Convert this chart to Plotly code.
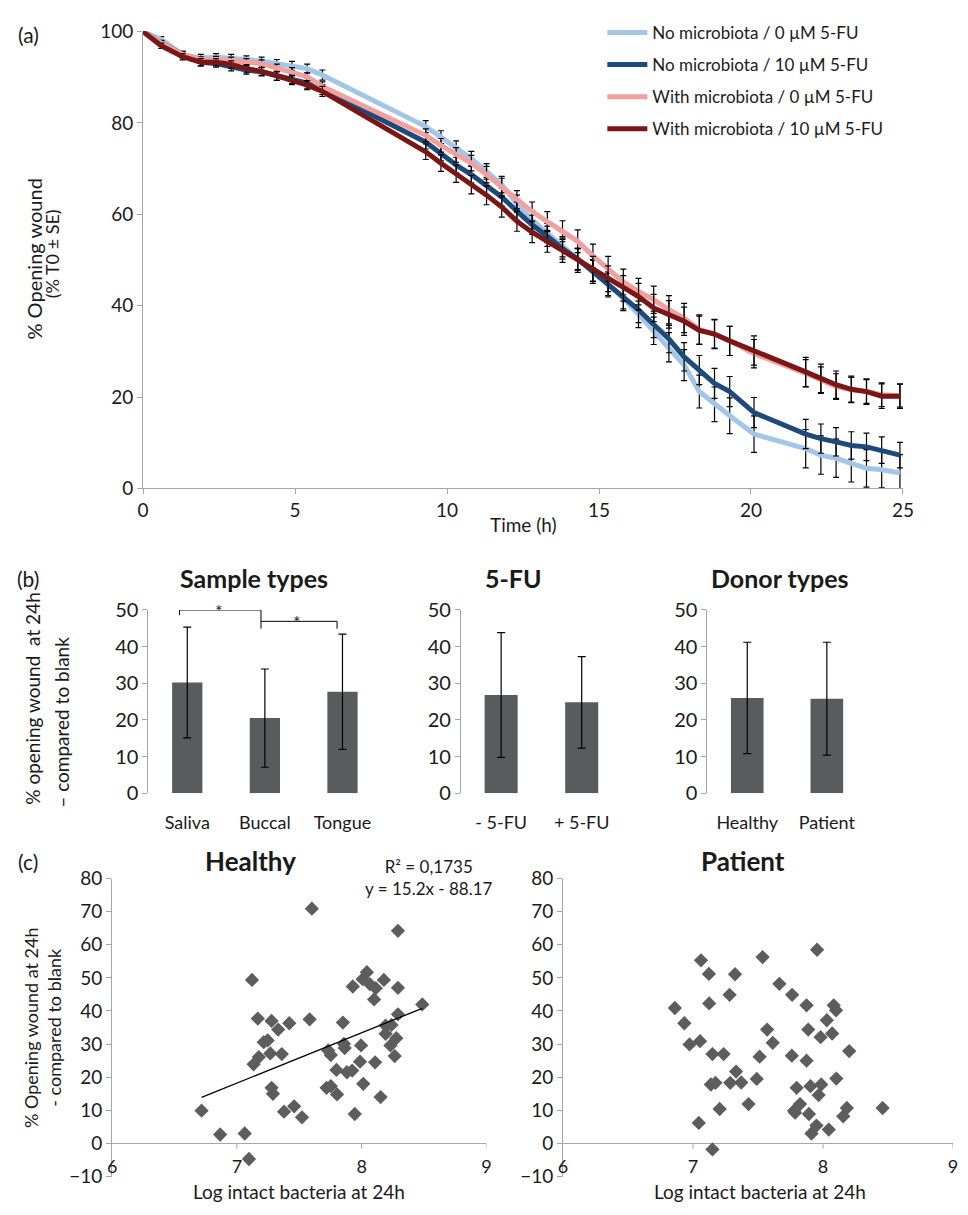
import plotly.graph_objects as go

FONT = "Lato"
W, H = 968, 1215

# ---------------- Panel (a): wound closure over time ----------------
time_h = [0, 0.6, 1.3, 1.9, 2.4, 2.9, 3.4, 3.9, 4.4, 4.9, 5.4, 5.9,
          9.3, 9.8, 10.3, 10.8, 11.3, 11.8, 12.3, 12.8, 13.3, 13.8, 14.3, 14.8,
          15.3, 15.8, 16.3, 16.8, 17.3, 17.8, 18.3, 18.8, 19.3, 20.1,
          21.8, 22.3, 22.8, 23.3, 23.8, 24.3, 24.9]

no_mb_0 = [100, 98.3, 95.0, 94.2, 94.4, 94.2, 93.9, 93.5, 93.0, 92.5, 91.9, 90.5,
           79.2, 76.9, 74.6, 72.2, 69.4, 66.5, 62.3, 58.8, 55.9, 52.9, 50.2, 47.7,
           44.8, 41.6, 38.1, 34.5, 30.9, 27.0, 21.2, 18.4, 15.9, 11.9,
           8.7, 7.3, 6.6, 5.5, 4.4, 4.1, 3.4]
no_mb_10 = [100, 97.5, 95.0, 93.3, 93.0, 92.3, 91.6, 91.2, 90.3, 89.6, 88.7, 87.3,
            75.8, 73.3, 70.8, 68.7, 66.2, 63.8, 60.7, 57.7, 55.2, 52.5, 50.2, 47.4,
            44.5, 42.0, 39.1, 35.9, 32.7, 28.8, 25.9, 23.0, 21.2, 16.6,
            11.9, 10.9, 10.2, 9.4, 9.1, 8.4, 7.3]
with_mb_0 = [100, 97.5, 95.0, 93.8, 93.9, 93.7, 93.3, 93.0, 92.1, 91.2, 90.1, 88.0,
             77.3, 75.1, 73.0, 71.2, 68.7, 66.0, 63.2, 60.6, 58.4, 56.3, 54.1, 50.9,
             48.1, 45.2, 43.1, 41.3, 39.1, 37.3, 34.8, 33.8, 32.3, 29.5,
             25.2, 23.7, 22.3, 21.6, 21.2, 20.5, 20.3]
with_mb_10 = [100, 96.9, 94.5, 93.3, 93.3, 92.8, 91.9, 91.3, 90.3, 89.4, 88.3, 86.9,
              73.7, 71.2, 68.9, 66.5, 64.2, 61.6, 58.5, 56.1, 54.1, 52.0, 49.9, 48.1,
              45.9, 43.8, 42.0, 39.5, 38.1, 36.6, 34.6, 33.8, 32.3, 30.2,
              25.5, 24.1, 22.7, 21.7, 21.2, 20.2, 20.2]

se_no_mb_0 = [0, 0.6, 0.7, 0.8, 0.8, 0.8, 0.8, 0.9, 0.9, 1.0, 1.0, 1.1,
              1.3, 1.4, 1.5, 1.6, 1.7, 1.8, 1.9, 2.0, 2.1, 2.2, 2.3, 2.4,
              2.6, 2.7, 2.9, 3.0, 3.2, 3.4, 3.6, 3.8, 3.9, 4.0,
              4.2, 4.2, 4.2, 4.1, 4.1, 4.0, 4.0]
se_no_mb_10 = [0, 0.6, 0.7, 0.8, 0.8, 0.9, 0.9, 0.9, 1.0, 1.0, 1.1, 1.1,
               1.5, 1.6, 1.7, 1.8, 1.9, 2.0, 2.0, 2.1, 2.2, 2.3, 2.4, 2.5,
               2.6, 2.7, 2.8, 2.9, 3.0, 3.1, 3.2, 3.3, 3.3, 3.3,
               3.2, 3.2, 3.1, 3.0, 3.0, 2.9, 2.8]
se_with_mb_0 = [0, 0.5, 0.6, 0.7, 0.7, 0.7, 0.8, 0.8, 0.8, 0.9, 0.9, 1.0,
                1.4, 1.5, 1.6, 1.7, 1.8, 1.9, 2.0, 2.1, 2.2, 2.3, 2.5, 2.6,
                2.7, 2.8, 2.9, 3.0, 3.1, 3.2, 3.2, 3.2, 3.2, 3.1,
                3.0, 2.9, 2.8, 2.7, 2.6, 2.6, 2.5]
se_with_mb_10 = [0, 0.6, 0.7, 0.8, 0.8, 0.8, 0.9, 0.9, 0.9, 1.0, 1.0, 1.1,
                 1.7, 1.8, 1.9, 2.0, 2.1, 2.2, 2.2, 2.3, 2.4, 2.5, 2.6, 2.7,
                 2.8, 2.8, 2.9, 3.0, 3.0, 3.1, 3.1, 3.1, 3.2, 3.2,
                 3.2, 3.1, 3.0, 2.9, 2.8, 2.7, 2.7]

series_names = ["No microbiota / 0 µM 5-FU", "No microbiota / 10 µM 5-FU",
                "With microbiota / 0 µM 5-FU", "With microbiota / 10 µM 5-FU"]
series_colors = ["#a3c6e8", "#1d4a7b", "#f29f9d", "#7a1716"]

# ---------------- Panel (b): bar charts ----------------
sample_types = ["Saliva", "Buccal", "Tongue"]
sample_means = [30.2, 20.5, 27.7]
sample_sd = [15.1, 13.4, 15.7]

fu_groups = ["- 5-FU", "+ 5-FU"]
fu_means = [26.8, 24.8]
fu_sd = [17.0, 12.5]

donor_groups = ["Healthy", "Patient"]
donor_means = [26.0, 25.8]
donor_sd = [15.2, 15.4]

# ---------------- Panel (c): scatter plots ----------------
healthy_x = [6.717, 6.866, 7.063, 7.097, 7.121, 7.168, 7.134, 7.176, 7.215, 7.247,
             7.278, 7.268, 7.278, 7.289, 7.331, 7.360, 7.378, 7.420, 7.459, 7.522,
             7.583, 7.601, 7.732, 7.753, 7.719, 7.753, 7.798, 7.803, 7.850, 7.858,
             7.864, 7.882, 7.924, 7.929, 7.945, 7.995, 7.987, 8.013, 8.008, 8.042,
             8.066, 8.113, 8.100, 8.108, 8.152, 8.178, 8.192, 8.192, 8.239, 8.231,
             8.265, 8.278, 8.291, 8.291, 8.291, 8.486]
healthy_y = [9.9, 2.7, 3.0, -4.7, 49.4, 37.7, 23.9, 26.1, 30.6, 31.1,
             37.0, 27.2, 16.8, 15.0, 34.4, 27.0, 9.6, 36.3, 11.2, 7.9,
             37.5, 70.9, 28.1, 26.7, 16.8, 17.3, 22.2, 14.8, 36.5, 30.1,
             28.8, 21.5, 22.0, 47.4, 8.9, 29.6, 24.7, 18.0, 49.6, 51.7,
             48.1, 46.9, 43.5, 24.5, 14.0, 49.4, 35.6, 33.1, 35.8, 29.6,
             26.4, 31.8, 64.2, 47.0, 39.0, 42.0]
patient_x = [6.860, 6.933, 6.973, 7.054, 7.061, 7.044, 7.122, 7.124, 7.149, 7.137,
             7.172, 7.149, 7.205, 7.235, 7.281, 7.286, 7.323, 7.331, 7.371, 7.427,
             7.490, 7.512, 7.535, 7.570, 7.613, 7.664, 7.762, 7.760, 7.777, 7.785,
             7.797, 7.823, 7.873, 7.886, 7.873, 7.891, 7.903, 7.911, 7.949, 7.954,
             7.966, 7.981, 7.986, 8.029, 8.044, 8.070, 8.082, 8.100, 8.102, 8.155,
             8.183, 8.201, 8.458]
patient_y = [40.9, 36.3, 29.9, 30.9, 55.3, 6.2, 51.2, 42.3, 27.0, 17.8,
             18.3, -1.8, 10.4, 27.0, 44.9, 18.3, 51.1, 21.7, 18.4, 11.9,
             19.5, 26.2, 56.3, 34.4, 30.4, 48.2, 44.9, 26.5, 9.9, 9.3,
             16.8, 11.9, 41.7, 34.4, 25.0, 8.9, 17.3, 3.0, 5.4, 58.5,
             14.6, 32.1, 17.8, 37.2, 4.2, 33.2, 41.7, 40.2, 19.6, 8.2,
             10.7, 27.9, 10.7]
trend_slope = 15.2
trend_intercept = -88.17
trend_r2 = "0,1735"

# ---------------- helpers ----------------
def px(x):
    return x / W


def py(y):
    return 1 - y / H


AXIS_GRAY = "#a6a6a6"
TXT = "#1a1a1a"
BAR = "#5a5b5d"
PT = "#5d5d5d"

fig = go.Figure()

# Panel (a) traces
all_y = [no_mb_0, no_mb_10, with_mb_0, with_mb_10]
all_se = [se_no_mb_0, se_no_mb_10, se_with_mb_0, se_with_mb_10]
for i, (name, col, yv, se) in enumerate(zip(series_names, series_colors, all_y, all_se)):
    fig.add_trace(go.Scatter(
        x=time_h, y=yv, name=name, mode="lines",
        line=dict(color=col, width=5),
        error_y=dict(type="data", array=se, visible=True, color="black",
                     thickness=1.2, width=3),
        legendgroup=f"g{i}", xaxis="x", yaxis="y"))

# Panel (b) bar traces
for xa, ya, cats, means, sds, bw in [
        ("x2", "y2", sample_types, sample_means, sample_sd, 0.39),
        ("x3", "y3", fu_groups, fu_means, fu_sd, 0.41),
        ("x4", "y4", donor_groups, donor_means, donor_sd, 0.41)]:
    fig.add_trace(go.Bar(
        x=list(range(len(cats))), y=means, width=bw,
        marker=dict(color=BAR, line=dict(width=0)),
        error_y=dict(type="data", array=sds, visible=True, color="black",
                     thickness=1.2, width=4),
        showlegend=False, xaxis=xa, yaxis=ya))

# Panel (c) scatter traces
fig.add_trace(go.Scatter(x=healthy_x, y=healthy_y, mode="markers",
                         marker=dict(symbol="diamond", size=11, color=PT),
                         showlegend=False, xaxis="x5", yaxis="y5"))
tx = [min(healthy_x), max(healthy_x)]
ty = [trend_slope * v + trend_intercept for v in tx]
fig.add_trace(go.Scatter(x=tx, y=ty, mode="lines",
                         line=dict(color="black", width=1.3),
                         showlegend=False, xaxis="x5", yaxis="y5"))
fig.add_trace(go.Scatter(x=patient_x, y=patient_y, mode="markers",
                         marker=dict(symbol="diamond", size=11, color=PT),
                         showlegend=False, xaxis="x6", yaxis="y6"))

font_a = dict(family=FONT, size=19, color=TXT)
font_b = dict(family=FONT, size=20, color=TXT)
font_bcat = dict(family=FONT, size=18, color=TXT)
font_c = dict(family=FONT, size=19, color=TXT)
font_cx = dict(family=FONT, size=18, color=TXT)


def yax(tf):
    return dict(showline=True, linecolor=AXIS_GRAY, linewidth=1, ticks="outside",
                ticklen=5, tickcolor=AXIS_GRAY, showgrid=False, zeroline=False,
                tickfont=tf)


layout = dict(
    width=W, height=H, margin=dict(l=0, r=0, t=0, b=0),
    paper_bgcolor="white", plot_bgcolor="white",
    font=dict(family=FONT, color=TXT),
    showlegend=True,
    legend=dict(x=px(607), y=py(2), xanchor="left", yanchor="top",
                font=dict(family=FONT, size=17, color=TXT),
                itemwidth=40, tracegroupgap=7, bgcolor="rgba(0,0,0,0)"),
    # panel a
    xaxis=dict(domain=[px(139.5), px(913)], anchor="y", range=[0, 25],
               tickvals=[0, 5, 10, 15, 20, 25], showline=True, linecolor=AXIS_GRAY,
               ticks="outside", ticklen=5, tickcolor=AXIS_GRAY, showgrid=False,
               zeroline=False, tickfont=font_a),
    yaxis=dict(domain=[py(485), py(19)], anchor="x", range=[0, 100], dtick=20, **yax(font_a)),
    # panel b
    xaxis2=dict(domain=[px(145), px(382)], anchor="y2", range=[-0.5, 2.5],
                tickvals=[0, 1, 2], ticktext=sample_types, showline=False, ticks="",
                showgrid=False, zeroline=False, tickfont=font_bcat, ticklabelstandoff=17),
    yaxis2=dict(domain=[py(796), py(609)], anchor="x2", range=[0, 50], dtick=10, **yax(font_b)),
    xaxis3=dict(domain=[px(463), px(627)], anchor="y3", range=[-0.5, 1.5],
                tickvals=[0, 1], ticktext=fu_groups, showline=False, ticks="",
                showgrid=False, zeroline=False, tickfont=font_bcat, ticklabelstandoff=17),
    yaxis3=dict(domain=[py(796), py(609)], anchor="x3", range=[0, 50], dtick=10, **yax(font_b)),
    xaxis4=dict(domain=[px(714), px(876)], anchor="y4", range=[-0.5, 1.5],
                tickvals=[0, 1], ticktext=donor_groups, showline=False, ticks="",
                showgrid=False, zeroline=False, tickfont=font_bcat, ticklabelstandoff=17),
    yaxis4=dict(domain=[py(796), py(609)], anchor="x4", range=[0, 50], dtick=10, **yax(font_b)),
    # panel c
    xaxis5=dict(domain=[px(108), px(489)], anchor="y5", range=[6, 9],
                tickvals=[6, 7, 8, 9], showline=False, ticks="", showgrid=False,
                zeroline=False, tickfont=font_cx, ticklabelstandoff=-23),
    yaxis5=dict(domain=[py(1187), py(883)], anchor="x5", range=[-10, 80], dtick=10,
                **{**yax(font_c), "zeroline": True, "zerolinecolor": AXIS_GRAY, "zerolinewidth": 1}),
    xaxis6=dict(domain=[px(567), px(964)], anchor="y6", range=[6, 9],
                tickvals=[6, 7, 8, 9], showline=False, ticks="", showgrid=False,
                zeroline=False, tickfont=font_cx, ticklabelstandoff=-23),
    yaxis6=dict(domain=[py(1187), py(883)], anchor="x6", range=[-10, 80], dtick=10,
                **{**yax(font_c), "zeroline": True, "zerolinecolor": AXIS_GRAY, "zerolinewidth": 1}),
)
fig.update_layout(**layout)

# small tick marks on the y=0 axis line in panel (c)
shapes = []
for xa, ya in [("x5", "y5"), ("x6", "y6")]:
    for v in [7, 8, 9]:
        shapes.append(dict(type="line", xref=xa, yref=ya, x0=v, x1=v, y0=0, y1=-1.6,
                           line=dict(color=AXIS_GRAY, width=1)))
# significance brackets in panel (b)
br = dict(color="black", width=1)
shapes += [
    dict(type="line", xref="x2", yref="y2", x0=-0.1, x1=-0.1, y0=48.6, y1=50, line=br),
    dict(type="line", xref="x2", yref="y2", x0=-0.1, x1=0.95, y0=50, y1=50, line=br),
    dict(type="line", xref="x2", yref="y2", x0=0.95, x1=0.95, y0=50, y1=44.9, line=br),
    dict(type="line", xref="x2", yref="y2", x0=0.95, x1=1.93, y0=46.9, y1=46.9, line=br),
    dict(type="line", xref="x2", yref="y2", x0=1.93, x1=1.93, y0=46.9, y1=44.9, line=br),
]
fig.update_layout(shapes=shapes)


def ann(text, x, y, size=16, bold=False, angle=0, **kw):
    t = f"<b>{text}</b>" if bold else text
    d = dict(text=t, x=px(x), y=py(y), xref="paper", yref="paper",
             xanchor="center", yanchor="middle", showarrow=False, textangle=angle,
             font=dict(family=FONT, size=size, color=TXT))
    d.update(kw)
    return d


annotations = [
    ann("(a)", 23, 22, 21),
    ann("(b)", 22, 577, 21),
    ann("(c)", 22, 866, 21),
    ann("% Opening wound", 29, 251, 20, angle=-90),
    ann("(% T0 ± SE)", 47, 246, 18, angle=-90),
    ann("Time (h)", 527, 522, 19),
    ann("Sample types", 252, 576, 25, bold=True),
    ann("5-FU", 517, 576, 25, bold=True),
    ann("Donor types", 788, 576, 25, bold=True),
    ann("% opening wound  at 24h", 27, 700, 19, angle=-90),
    ann("– compared to blank", 57, 723, 19, angle=-90),
    ann("Healthy", 249, 865, 26, bold=True),
    ann("Patient", 750, 865, 26, bold=True),
    ann(f"R² = {trend_r2}<br>y = {trend_slope}x - {abs(trend_intercept)}", 431, 882, 17),
    ann("% Opening wound at 24h", 25, 1035, 18, angle=-90),
    ann("- compared to blank", 48, 1035, 18, angle=-90),
    ann("Log intact bacteria at 24h", 298, 1215, 19, yanchor="bottom", borderpad=0),
    ann("Log intact bacteria at 24h", 767, 1215, 19, yanchor="bottom", borderpad=0),
]
# asterisks for significance
annotations.append(dict(text="*", x=0.41, y=50, xref="x2", yref="y2", showarrow=False,
                        yanchor="middle", yshift=-1, font=dict(family=FONT, size=18, color=TXT)))
annotations.append(dict(text="*", x=1.41, y=46.9, xref="x2", yref="y2", showarrow=False,
                        yanchor="middle", yshift=-1, font=dict(family=FONT, size=18, color=TXT)))
fig.update_layout(annotations=annotations)

fig.write_html("out.html")
